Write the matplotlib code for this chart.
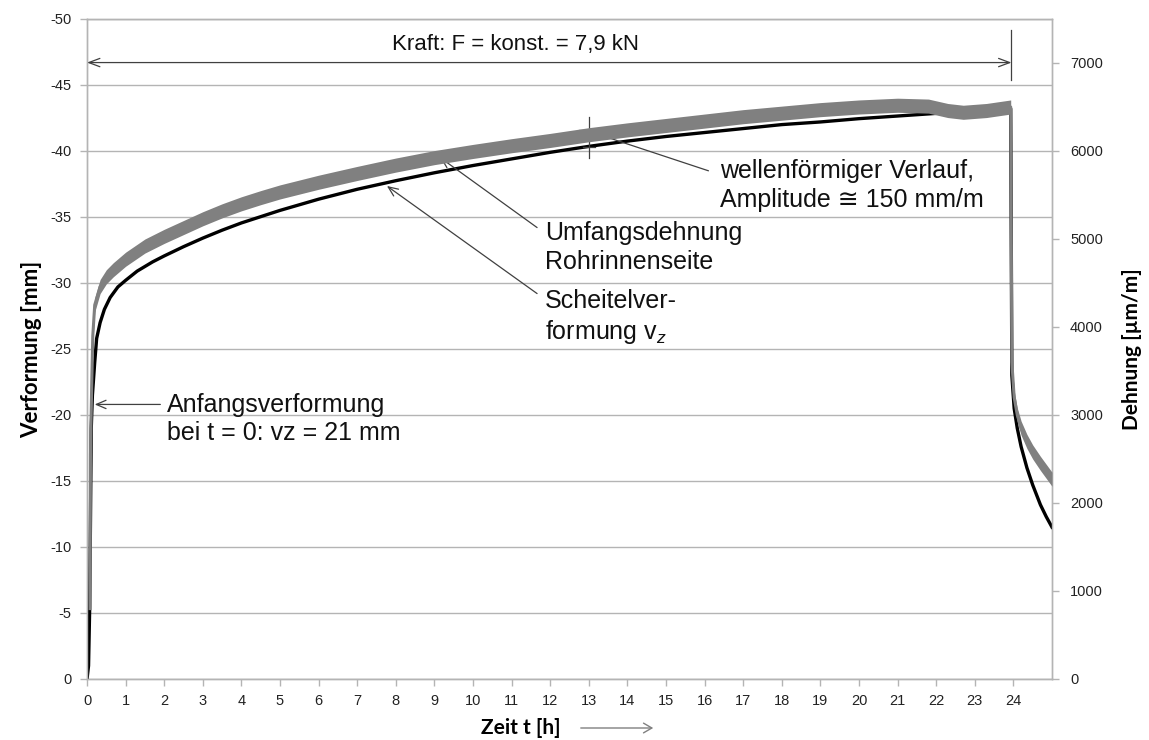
import matplotlib
matplotlib.use("Agg")
import matplotlib.pyplot as plt
import numpy as np

plt.rcParams['font.family'] = ['Liberation Sans', 'DejaVu Sans']
plt.rcParams['axes.unicode_minus'] = False
plt.rcParams['mathtext.fontset'] = 'custom'
plt.rcParams['mathtext.rm'] = 'Liberation Sans'
plt.rcParams['mathtext.it'] = 'Liberation Sans:italic'

# ---- data ----
t_black = [0, 0.04, 0.07, 0.09, 0.11, 0.14, 0.2, 0.25, 0.34, 0.45, 0.6, 0.8, 1.0, 1.3, 1.7,
           2.0, 2.5, 3.0, 3.5, 4, 5, 6, 7, 8, 9, 10, 11, 12, 13, 14, 15, 16, 17, 18, 19,
           20, 21, 22, 23, 23.93,
           23.96, 24.02, 24.1, 24.2, 24.35, 24.5, 24.7, 24.85, 25.0]
v_black = [0, -1, -5.5, -12, -19, -21.5, -24, -25.8, -27.0, -28.0, -28.9, -29.7, -30.2, -30.9, -31.6,
           -32.05, -32.75, -33.4, -34.0, -34.55, -35.5, -36.35, -37.1, -37.75, -38.35, -38.9, -39.4,
           -39.9, -40.35, -40.75, -41.1, -41.4, -41.7, -42.0, -42.2,
           -42.45, -42.65, -42.85, -43.0, -43.2,
           -23.0, -20.5, -19.0, -17.6, -16.0, -14.7, -13.2, -12.3, -11.5]

t_grey = [0.08, 0.09, 0.12, 0.15, 0.2, 0.34, 0.5, 0.68, 1.0, 1.5, 2.0, 2.5, 3.0, 3.5, 4, 4.5, 5, 6, 7,
          8, 9, 10, 11, 12, 13, 14, 15, 16, 17, 18, 19, 20, 21, 21.8, 22.3, 22.7, 23.3, 23.93,
          23.96, 24.02, 24.1, 24.2, 24.35, 24.5, 24.7, 24.85, 25.0]
e_grey = [800, 2550, 3300, 3900, 4250, 4460, 4570, 4650, 4770, 4920, 5030, 5130, 5230, 5320,
          5400, 5470, 5535, 5645, 5745, 5840, 5925, 5995, 6060, 6120, 6185, 6240, 6290, 6340, 6390,
          6430, 6470, 6500, 6520, 6510, 6460, 6440, 6460, 6500,
          3600, 3200, 3000, 2850, 2700, 2580, 2450, 2360, 2270]
grey_halfband = 80  # half of the noise band width [µm/m]

x_ticks = list(range(0, 25))
y_left_ticks = [-50, -45, -40, -35, -30, -25, -20, -15, -10, -5, 0]
y_right_ticks = [0, 1000, 2000, 3000, 4000, 5000, 6000, 7000]

# ---- figure ----
fig = plt.figure(figsize=(11.49, 7.40), dpi=100)
ax = fig.add_axes([87/1149, 1-679/740, (1052-87)/1149, (679-19)/740])
ax2 = ax.twinx()

gcol = '#b4b4b4'
ax.set_xlim(0, 25)
ax.set_ylim(0, -50)
ax2.set_ylim(0, 7500)
ax.set_xticks(x_ticks)
ax.set_yticks(y_left_ticks)
ax2.set_yticks(y_right_ticks)
ax.yaxis.grid(True, color=gcol, lw=1.0)
ax.set_axisbelow(True)
for a in (ax, ax2):
    for s in a.spines.values():
        s.set_color(gcol)
        s.set_linewidth(1.0)
    a.tick_params(colors=gcol, labelcolor='#222222', labelsize=10.5, length=5, width=1)
ax.tick_params(axis='x', pad=6)
ax.tick_params(axis='y', pad=6)
ax2.tick_params(axis='y', pad=8)

# black curve (left axis)
ax.plot(t_black, v_black, color='black', lw=2.4, zorder=3, solid_joinstyle='round')

# grey band (right axis)
eg = np.array(e_grey)
ax2.fill_between(t_grey, eg - grey_halfband, eg + grey_halfband, color='#808080', lw=0, zorder=4)
ax2.plot(t_grey, e_grey, color='#808080', lw=2.2, zorder=4)
ax2.set_zorder(ax.get_zorder() + 1)
ax2.patch.set_visible(False)

# labels
ax.set_ylabel('Verformung [mm]', fontsize=16, fontweight='bold', family=['Lato', 'DejaVu Sans'], labelpad=6)
ax2.set_ylabel('Dehnung [µm/m]', fontsize=15, fontweight='bold', family=['Lato', 'DejaVu Sans'], labelpad=14)
fig.text(521/1149, 1-728/740, 'Zeit t [h]', fontsize=15, fontweight='bold', family=['Lato', 'DejaVu Sans'],
         ha='center', va='center')
fig.patches.append(matplotlib.patches.FancyArrowPatch((578/1149, 1-728/740), (656/1149, 1-728/740),
                   transform=fig.transFigure, arrowstyle='->,head_length=6,head_width=3.5',
                   color='#808080', lw=1.0))

acol = '#404040'
# force arrow
ax.annotate('', xy=(0, -46.7), xytext=(23.95, -46.7),
            arrowprops=dict(arrowstyle='<->,head_length=0.8,head_width=0.3', color=acol, lw=0.9,
                            shrinkA=0, shrinkB=0), zorder=6)
ax.plot([23.95, 23.95], [-49.2, -45.4], color=acol, lw=0.9, zorder=6)
ax.text(11.1, -48.1, 'Kraft: F = konst. = 7,9 kN', fontsize=16, ha='center', va='center', color='#111111')

# marker cross at t = 13
ax.plot([13, 13], [-42.6, -39.5], color=acol, lw=0.9, zorder=6)
ax.plot([12.75, 13.25], [-41.6, -41.6], color=acol, lw=0.9, zorder=6)
ax.plot([12.85, 13.15], [-40.3, -40.3], color=acol, lw=0.9, zorder=6)

fs = 18
ax.annotate('', xy=(13.0, -41.5), xytext=(16.1, -38.5),
            arrowprops=dict(arrowstyle='-', color=acol, lw=0.9, shrinkA=0, shrinkB=0), zorder=6)
ax.text(16.4, -37.4, 'wellenförmiger Verlauf,\nAmplitude ≅ 150 mm/m', fontsize=fs, ha='left', va='center',
        linespacing=1.25, color='#111111')

ax.annotate('', xy=(9.15, -39.5), xytext=(11.66, -34.2),
            arrowprops=dict(arrowstyle='->,head_length=0.7,head_width=0.3', color=acol, lw=0.9,
                            shrinkA=0, shrinkB=0), zorder=6)
ax.text(11.87, -32.7, 'Umfangsdehnung\nRohrinnenseite', fontsize=fs, ha='left', va='center',
        linespacing=1.25, color='#111111')

ax.annotate('', xy=(7.77, -37.35), xytext=(11.66, -29.2),
            arrowprops=dict(arrowstyle='->,head_length=0.7,head_width=0.3', color=acol, lw=0.9,
                            shrinkA=0, shrinkB=0), zorder=6)
ax.text(11.87, -27.4, 'Scheitelver-\nformung v$_{z}$', fontsize=fs, ha='left', va='center',
        linespacing=1.25, color='#111111')

ax.annotate('', xy=(0.2, -20.8), xytext=(1.9, -20.8),
            arrowprops=dict(arrowstyle='->,head_length=0.7,head_width=0.3', color=acol, lw=0.9,
                            shrinkA=0, shrinkB=0), zorder=6)
ax.text(2.07, -19.7, 'Anfangsverformung\nbei t = 0: vz = 21 mm', fontsize=fs, ha='left', va='center',
        linespacing=1.25, color='#111111')

fig.savefig('out.png', dpi=100)
